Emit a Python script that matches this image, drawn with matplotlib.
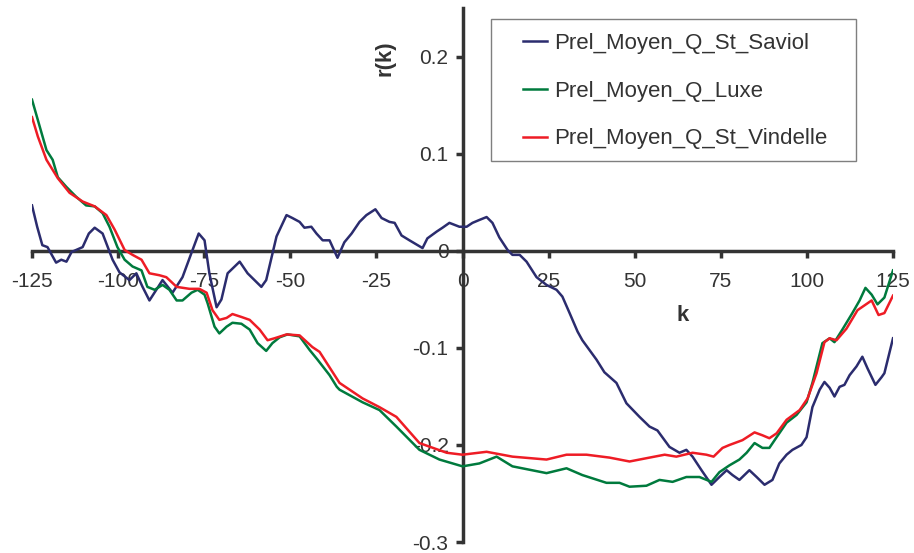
import matplotlib
matplotlib.use("Agg")
import matplotlib.pyplot as plt
from matplotlib.patches import Rectangle

plt.rcParams['font.family'] = ['Liberation Sans', 'DejaVu Sans']
plt.rcParams['axes.unicode_minus'] = False

# ---- data ----
k_saviol = [-125, -123.5, -122, -120.5, -118, -116.5, -115, -113.5, -110.3, -108.5,
            -106.8, -104.5, -101.6, -99.6, -96.7, -94.7, -92.9, -90.9, -88.9, -87.1,
            -84.2, -81.3, -78.7, -76.6, -74.9, -73.5, -71.4, -70, -68.2, -64.7,
            -62.4, -60.4, -58.4, -57, -54, -51.1, -49.4, -47.3, -45.9, -43.9,
            -42.4, -40.6, -38.6, -36.3, -34.3, -32.2, -29.9, -27.9, -25.3, -23.5,
            -21.2, -19.7, -17.7, -15.4, -11.6, -10.2, -7.5, -5.8, -3.8, -0.9,
            1.2, 2.9, 4.9, 7, 8.7, 10.7, 13.1, 14.5, 16.6, 18.6,
            21.5, 24.4, 27.3, 29, 31.1, 33.4, 34.8, 38.9, 41.2, 44.7,
            47.6, 51.4, 54.3, 56.6, 60.1, 63, 65, 66.8, 69.4, 72.3,
            74.6, 76.7, 78.4, 80.4, 83.3, 85.4, 87.7, 90, 92, 94.1,
            95.8, 98.4, 99.9, 101.6, 103.7, 105.1, 106.6, 108, 109.5, 110.9,
            112.4, 114.4, 116.1, 117.6, 119.9, 121.7, 122.5, 125]
r_saviol = [0.047, 0.025, 0.006, 0.004, -0.012, -0.009, -0.011, -0.001, 0.004, 0.018,
            0.024, 0.018, -0.009, -0.022, -0.030, -0.023, -0.037, -0.051, -0.040, -0.030,
            -0.043, -0.027, -0.002, 0.018, 0.011, -0.023, -0.058, -0.050, -0.023, -0.011,
            -0.023, -0.030, -0.037, -0.030, 0.015, 0.037, 0.034, 0.030, 0.024, 0.025,
            0.018, 0.011, 0.011, -0.007, 0.009, 0.018, 0.030, 0.037, 0.043, 0.034,
            0.030, 0.029, 0.016, 0.011, 0.003, 0.013, 0.020, 0.024, 0.029, 0.025,
            0.025, 0.029, 0.032, 0.035, 0.029, 0.014, 0.001, -0.004, -0.004, -0.011,
            -0.027, -0.035, -0.040, -0.047, -0.064, -0.083, -0.092, -0.112, -0.125, -0.136,
            -0.157, -0.171, -0.181, -0.185, -0.202, -0.208, -0.205, -0.212, -0.226, -0.241,
            -0.233, -0.226, -0.231, -0.236, -0.226, -0.233, -0.241, -0.236, -0.219, -0.210,
            -0.205, -0.200, -0.192, -0.161, -0.143, -0.135, -0.141, -0.150, -0.140, -0.138,
            -0.128, -0.119, -0.109, -0.121, -0.138, -0.130, -0.126, -0.090]

k_luxe = [-125, -123.3, -120.8, -119, -117.5, -115, -112.2, -109.3, -106.8, -104.5,
          -102.5, -100.2, -98.1, -95.8, -93.2, -91.5, -89.4, -87.1, -85.1, -83,
          -81.3, -78.7, -76.9, -74.9, -74, -72, -70.6, -68.5, -66.8, -64.2,
          -61.8, -59.5, -57, -55.2, -53.1, -50.8, -47.3, -44.4, -42.1, -38.6,
          -36.5, -35.7, -29, -24.1, -19.2, -12.5, -6.7, 0, 4.9, 9.9,
          14.5, 24.4, 30.2, 34.8, 41.8, 45.6, 48.5, 53.4, 57.2, 61,
          65, 68.8, 72.3, 74.6, 77.5, 80.4, 82.5, 84.8, 87.1, 89.1,
          91.2, 94.1, 97, 99.9, 101.6, 104.5, 106.6, 108, 110.3, 113.2,
          115.3, 117, 118.8, 120.5, 122.5, 125]
r_luxe = [0.156, 0.135, 0.104, 0.094, 0.076, 0.066, 0.056, 0.047, 0.046, 0.039,
          0.025, 0.004, -0.009, -0.016, -0.020, -0.037, -0.040, -0.035, -0.040, -0.051,
          -0.051, -0.043, -0.040, -0.045, -0.054, -0.078, -0.085, -0.078, -0.074, -0.075,
          -0.081, -0.095, -0.103, -0.095, -0.089, -0.086, -0.088, -0.102, -0.112, -0.128,
          -0.140, -0.143, -0.156, -0.164, -0.181, -0.205, -0.215, -0.222, -0.219, -0.212,
          -0.222, -0.229, -0.224, -0.231, -0.239, -0.239, -0.243, -0.242, -0.236, -0.238,
          -0.233, -0.233, -0.238, -0.228, -0.221, -0.215, -0.208, -0.198, -0.203, -0.203,
          -0.192, -0.177, -0.169, -0.156, -0.136, -0.095, -0.090, -0.094, -0.081, -0.064,
          -0.051, -0.038, -0.045, -0.055, -0.048, -0.020]

k_vindelle = [-125, -123.3, -120.8, -117.5, -114.1, -110.3, -106.8, -103.4, -101, -98.1,
              -95.8, -93.2, -90.9, -88, -86, -83, -79.3, -76.4, -74.3, -72.6,
              -70.6, -68.5, -66.8, -64.2, -61.8, -58.9, -56.6, -54.6, -51.1, -47.3,
              -43.6, -41.5, -35.7, -29, -24.1, -19.2, -12.5, -4.6, 0, 7,
              14.5, 24.4, 30.2, 36, 42.7, 48.5, 54.3, 58.7, 62.1, 66.8,
              70.8, 72.9, 75.5, 77.5, 81.3, 84.8, 87.1, 89.1, 91.2, 94.1,
              97.9, 100.2, 102.8, 105.1, 106.6, 108.6, 111.5, 114.7, 118.8, 120.8,
              122.5, 125]
r_vindelle = [0.138, 0.118, 0.094, 0.075, 0.060, 0.051, 0.046, 0.037, 0.022, 0.001,
              -0.004, -0.009, -0.023, -0.025, -0.027, -0.037, -0.039, -0.039, -0.043, -0.061,
              -0.071, -0.069, -0.065, -0.068, -0.071, -0.081, -0.092, -0.090, -0.086, -0.087,
              -0.099, -0.104, -0.136, -0.152, -0.161, -0.171, -0.198, -0.208, -0.210, -0.207,
              -0.212, -0.215, -0.210, -0.210, -0.213, -0.217, -0.213, -0.210, -0.212, -0.208,
              -0.210, -0.212, -0.203, -0.200, -0.195, -0.187, -0.190, -0.193, -0.188, -0.174,
              -0.164, -0.152, -0.126, -0.094, -0.090, -0.092, -0.080, -0.061, -0.051, -0.066,
              -0.064, -0.046]

labels = ["Prel_Moyen_Q_St_Saviol", "Prel_Moyen_Q_Luxe", "Prel_Moyen_Q_St_Vindelle"]
colors = ["#2b2c6e", "#007a3d", "#ee1c25"]

x_ticks = [-125, -100, -75, -50, -25, 0, 25, 50, 75, 100, 125]
y_ticks = [-0.3, -0.2, -0.1, 0, 0.1, 0.2]
y_tick_labels = ["-0.3", "-0.2", "-0.1", "0", "0.1", "0.2"]

# ---- figure ----
W, H = 914, 553
fig = plt.figure(figsize=(W / 100, H / 100), dpi=100)
ax = fig.add_axes([32 / W, 1 - 542 / H, (893 - 32) / W, (542 - 8) / H])

ax.plot(k_saviol, r_saviol, color=colors[0], lw=1.8, label=labels[0])
ax.plot(k_luxe, r_luxe, color=colors[1], lw=1.8, label=labels[1])
ax.plot(k_vindelle, r_vindelle, color=colors[2], lw=1.8, label=labels[2])

ax.set_xlim(-125, 125)
ax.set_ylim(-0.3, 0.2505)

axis_col = "#333333"
for side in ["top", "right"]:
    ax.spines[side].set_visible(False)
ax.spines["left"].set_position(("data", 0))
ax.spines["bottom"].set_position(("data", 0))
for side in ["left", "bottom"]:
    ax.spines[side].set_color(axis_col)
    ax.spines[side].set_linewidth(2.5)
    ax.spines[side].set_zorder(1)

ax.set_xticks(x_ticks)
ax.set_xticklabels([str(t) for t in x_ticks])
ax.set_yticks(y_ticks)
ax.set_yticklabels(y_tick_labels)
ax.tick_params(axis="x", direction="out", length=5, width=2.5, color=axis_col,
               labelsize=15, labelcolor=axis_col, pad=10)
ax.tick_params(axis="y", direction="out", length=5, width=2.5, color=axis_col,
               labelsize=15, labelcolor=axis_col, pad=5)
ax.patch.set_visible(False)

ax.text(-22.6, 0.199, "r(k)", rotation=90, fontsize=16, fontweight="bold",
        color=axis_col, ha="center", va="center")
ax.text(63.9, -0.066, "k", fontsize=16, fontweight="bold",
        color=axis_col, ha="center", va="center")

# legend
fig.patches.append(Rectangle((491 / W, 1 - 161 / H), 365 / W, 142 / H,
                             transform=fig.transFigure, fill=False,
                             edgecolor="#7f7f7f", lw=1.0))
leg = ax.legend(loc="upper left", bbox_to_anchor=(523 / W, 1 - 33 / H),
                bbox_transform=fig.transFigure, frameon=False, fontsize=16,
                handlelength=1.1, handletextpad=0.3, labelspacing=1.2,
                borderpad=0, borderaxespad=0)
for t in leg.get_texts():
    t.set_color(axis_col)

fig.savefig("out.png", dpi=100)
